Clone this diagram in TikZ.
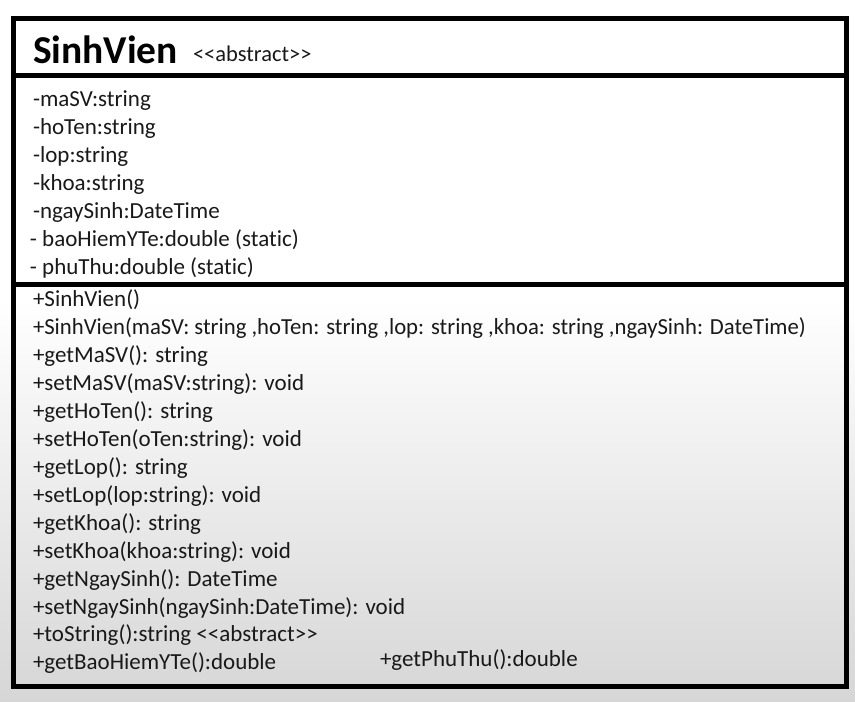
\documentclass[tikz,border=0pt]{standalone}
\usepackage{fontspec}
\setmainfont{Carlito}[Ligatures={NoCommon,NoRare,NoContextual}]
\newcommand{\ltlt}{<\kern0pt<}
\newcommand{\gtgt}{>\kern0pt>}
\begin{document}
\begin{tikzpicture}[x=1pt,y=-1pt,
  txt/.style={anchor=base west,inner sep=0pt,outer sep=0pt,font=\fontsize{23}{28}\selectfont,text=black!90},
  frame/.style={draw=black,line width=5pt},
  sep/.style={draw=black,line width=5pt}]
\useasboundingbox (0,0) rectangle (855,702);
\fill[white] (0,0) rectangle (855,300);
\shade[top color=white,bottom color=black!16] (0,300) rectangle (855,702);
% frame
\draw[frame] (13.5,18) rectangle (846.5,686);
\draw[sep] (13.5,75.5) -- (846.5,75.5);
\draw[sep] (13.5,284) -- (846.5,284);
% title
\node[txt,text=black,font=\fontsize{39.5}{40}\selectfont\bfseries] (title) at (33,63) {SinhVien};
\node[txt,font=\fontsize{22.5}{26}\selectfont] (stereo) at (193,61) {\ltlt abstract\gtgt};
% attributes
\node[txt] (a1) at (33,106) {-maSV:string};
\node[txt] (a2) at (33,134) {-hoTen:string};
\node[txt] (a3) at (33,162) {-lop:string};
\node[txt] (a4) at (33,190) {-khoa:string};
\node[txt] (a5) at (33,218) {-ngaySinh:DateTime};
\node[txt] (a6) at (30,246) {- baoHiemYTe:double (static)};
\node[txt] (a7) at (30,274) {- phuThu:double (static)};
% methods
\node[txt] (m1) at (33,306) {+SinhVien()};
\node[txt] (m2) at (33,334) {\scalebox{0.987}[1]{+SinhVien(maSV: string ,hoTen: string ,lop: string ,khoa: string ,ngaySinh: DateTime)}};
\node[txt] (m3) at (33,362) {+getMaSV(): string};
\node[txt] (m4) at (33,390) {+setMaSV(maSV:string): void};
\node[txt] (m5) at (33,418) {+getHoTen(): string};
\node[txt] (m6) at (33,446) {+setHoTen(oTen:string): void};
\node[txt] (m7) at (33,474) {+getLop(): string};
\node[txt] (m8) at (33,502) {+setLop(lop:string): void};
\node[txt] (m9) at (33,530) {+getKhoa(): string};
\node[txt] (m10) at (33,558) {+setKhoa(khoa:string): void};
\node[txt] (m11) at (33,586) {+getNgaySinh(): DateTime};
\node[txt] (m12) at (33,614) {+setNgaySinh(ngaySinh:DateTime): void};
\node[txt] (m13) at (33,641) {+toString():string \ltlt abstract\gtgt};
\node[txt] (m14) at (33,669) {+getBaoHiemYTe():double};
\node[txt] (m15) at (380,666) {+getPhuThu():double};
\end{tikzpicture}
\end{document}
